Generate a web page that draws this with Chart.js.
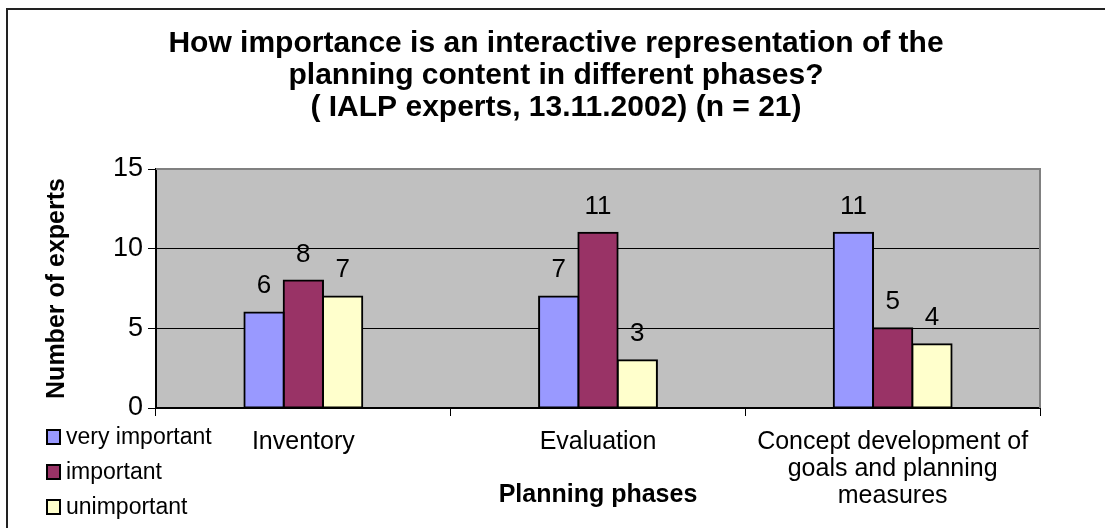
<!DOCTYPE html>
<html>
<head>
<meta charset="utf-8">
<title>Planning phases survey</title>
<script src="https://cdn.jsdelivr.net/npm/chart.js@4/dist/chart.umd.min.js"></script>
<style>
  html, body { margin: 0; padding: 0; background: #fff; }
  #wrap { position: relative; width: 1105px; height: 528px; }
</style>
</head>
<body>
<div id="wrap"><canvas id="phaseChart"></canvas></div>
<script>
const titleLines = [
  "How importance is an interactive representation of the",
  "planning content in different phases?",
  "( IALP experts, 13.11.2002) (n = 21)",
];
const categories = [
  "Inventory",
  "Evaluation",
  ["Concept development of", "goals and planning", "measures"],
];
const seriesNames = ["very important", "important", "unimportant"];
const veryImportant = [6, 7, 11];
const important = [8, 11, 5];
const unimportant = [7, 3, 4];
const yTicks = [0, 5, 10, 15];

const fontFamily = "'Liberation Sans', Arial, sans-serif";
Chart.defaults.font.family = fontFamily;
Chart.defaults.color = "#000";

// grey plot background and the white page behind it
const plotBackground = {
  id: "plotBackground",
  beforeDraw(chart) {
    const { ctx, chartArea: a } = chart;
    ctx.save();
    ctx.fillStyle = "#fff";
    ctx.fillRect(0, 0, chart.width, chart.height);
    ctx.fillStyle = "#c0c0c0";
    ctx.fillRect(a.left, a.top, a.right - a.left, a.bottom - a.top);
    ctx.restore();
  },
  afterDraw(chart) {
    const { ctx, chartArea: a } = chart;
    ctx.save();
    // plot frame on the top and right
    ctx.strokeStyle = "#808080";
    ctx.lineWidth = 2;
    ctx.beginPath();
    ctx.moveTo(a.left, a.top);
    ctx.lineTo(a.right, a.top);
    ctx.lineTo(a.right, a.bottom);
    ctx.stroke();
    // outer chart frame
    ctx.strokeStyle = "#222";
    ctx.lineWidth = 2;
    ctx.beginPath();
    ctx.moveTo(7, chart.height + 2);
    ctx.lineTo(7, 9);
    ctx.lineTo(chart.width + 2, 9);
    ctx.stroke();
    ctx.restore();
  },
};

// three-line heading, centred on the framed chart rather than the plot
const chartHeading = {
  id: "chartHeading",
  afterDraw(chart) {
    const { ctx } = chart;
    ctx.save();
    ctx.font = "bold 30px " + fontFamily;
    ctx.fillStyle = "#000";
    ctx.textAlign = "center";
    ctx.textBaseline = "middle";
    const cx = (7 + chart.width) / 2;
    titleLines.forEach((line, i) => ctx.fillText(line, cx, 44 + i * 32));
    ctx.restore();
  },
};

// value printed over every bar
const barValues = {
  id: "barValues",
  afterDatasetsDraw(chart) {
    const { ctx } = chart;
    ctx.save();
    ctx.font = "26px " + fontFamily;
    ctx.fillStyle = "#000";
    ctx.textAlign = "center";
    ctx.textBaseline = "alphabetic";
    chart.data.datasets.forEach((ds, i) => {
      chart.getDatasetMeta(i).data.forEach((bar, j) => {
        ctx.fillText(String(ds.data[j]), bar.x, bar.y - 19);
      });
    });
    ctx.restore();
  },
};

// legend stacked in the lower left corner
const cornerLegend = {
  id: "cornerLegend",
  afterDraw(chart) {
    const { ctx } = chart;
    ctx.save();
    ctx.font = "23px " + fontFamily;
    ctx.textBaseline = "middle";
    ctx.textAlign = "left";
    chart.data.datasets.forEach((ds, i) => {
      const cy = 437 + i * 35;
      ctx.fillStyle = ds.backgroundColor;
      ctx.fillRect(47, cy - 7, 13, 14);
      ctx.strokeStyle = "#000";
      ctx.lineWidth = 2;
      ctx.strokeRect(47, cy - 7, 13, 14);
      ctx.fillStyle = "#000";
      ctx.fillText(ds.label, 66, cy + 1);
    });
    ctx.restore();
  },
};

const barStyle = {
  borderColor: "#000",
  borderWidth: 2,
  borderSkipped: false,
  inflateAmount: 1,
  categoryPercentage: 0.4,
  barPercentage: 1.0,
};

new Chart(document.getElementById("phaseChart"), {
  type: "bar",
  data: {
    labels: categories,
    datasets: [
      { label: seriesNames[0], data: veryImportant, backgroundColor: "#9999ff", ...barStyle },
      { label: seriesNames[1], data: important, backgroundColor: "#993366", ...barStyle },
      { label: seriesNames[2], data: unimportant, backgroundColor: "#ffffcc", ...barStyle },
    ],
  },
  options: {
    responsive: true,
    maintainAspectRatio: false,
    animation: false,
    layout: { padding: { left: 30, right: 65, top: 169, bottom: 0 } },
    plugins: {
      legend: { display: false },
      tooltip: { enabled: false },
      title: { display: false },
    },
    scales: {
      x: {
        afterFit(scale) { scale.height = 120; },
        grid: {
          offset: true,
          drawOnChartArea: false,
          tickLength: 8,
          color: "#000",
        },
        border: { color: "#000", width: 2 },
        ticks: {
          padding: 13,
          maxRotation: 0,
          autoSkip: false,
          font: { size: 25, lineHeight: "27px" },
        },
        title: {
          display: true,
          text: "Planning phases",
          font: { size: 25, weight: "bold", lineHeight: 1.2 },
          padding: { top: 0, bottom: 18 },
        },
      },
      y: {
        min: yTicks[0],
        max: yTicks[yTicks.length - 1],
        afterFit(scale) { scale.width = 126; },
        afterBuildTicks(scale) { scale.ticks = yTicks.map((v) => ({ value: v })); },
        grid: {
          color: (c) => (c.tick && c.tick.value === 15 ? "#808080" : "#000"),
          tickColor: "#000",
          tickLength: 8,
          lineWidth: 1,
        },
        border: { color: "#000", width: 2 },
        ticks: {
          padding: 5,
          font: { size: 27 },
        },
        title: {
          display: true,
          text: "Number of experts",
          font: { size: 25, weight: "bold", lineHeight: 1.2 },
          padding: { top: 12, bottom: 0 },
        },
      },
    },
  },
  plugins: [plotBackground, chartHeading, barValues, cornerLegend],
});
</script>
</body>
</html>
